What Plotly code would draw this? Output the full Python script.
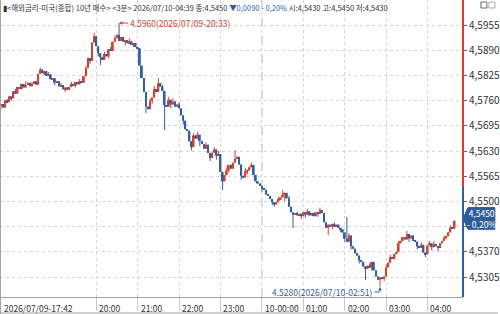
import plotly.graph_objects as go
import pandas as pd

# ---- data (3-minute candles, 2026/07/09 17:42 -> 2026/07/10 04:39) ----
start_time = "2026-07-09 17:42"
first_open = 4.5748
close = [
    4.5751, 4.5742, 4.5761, 4.5756, 4.5771, 4.5766, 4.5784, 4.5778, 4.5795, 4.5790,
    4.5803, 4.5794, 4.5800, 4.5806, 4.5797, 4.5803, 4.5810, 4.5801, 4.5829, 4.5840,
    4.5831, 4.5836, 4.5824, 4.5828, 4.5815, 4.5818, 4.5806, 4.5810, 4.5797, 4.5800,
    4.5789, 4.5794, 4.5788, 4.5795, 4.5803, 4.5798, 4.5808, 4.5802, 4.5810, 4.5806,
    4.5823, 4.5844, 4.5870, 4.5862, 4.5910, 4.5926, 4.5900, 4.5882, 4.5872, 4.5865,
    4.5880, 4.5874, 4.5892, 4.5888, 4.5912, 4.5921, 4.5930, 4.5914, 4.5924, 4.5912,
    4.5916, 4.5908, 4.5913, 4.5904, 4.5908, 4.5898, 4.5895, 4.5850, 4.5818, 4.5782,
    4.5745, 4.5738, 4.5760, 4.5768, 4.5790, 4.5782, 4.5805, 4.5796, 4.5785, 4.5748,
    4.5744, 4.5762, 4.5750, 4.5758, 4.5744, 4.5750, 4.5740, 4.5722, 4.5708, 4.5686,
    4.5682, 4.5655, 4.5640, 4.5670, 4.5662, 4.5672, 4.5656, 4.5648, 4.5636, 4.5646,
    4.5625, 4.5612, 4.5626, 4.5634, 4.5618, 4.5622, 4.5576, 4.5552, 4.5568, 4.5580,
    4.5594, 4.5584, 4.5600, 4.5610, 4.5615, 4.5595, 4.5566, 4.5562, 4.5578, 4.5580,
    4.5588, 4.5594, 4.5568, 4.5552, 4.5546, 4.5540, 4.5532, 4.5530, 4.5518, 4.5514,
    4.5506, 4.5498, 4.5492, 4.5498, 4.5506, 4.5510, 4.5516, 4.5522, 4.5508, 4.5486,
    4.5472, 4.5466, 4.5470, 4.5464, 4.5468, 4.5462, 4.5472, 4.5466, 4.5474, 4.5464,
    4.5470, 4.5462, 4.5472, 4.5468, 4.5478, 4.5470, 4.5446, 4.5432, 4.5440, 4.5436,
    4.5442, 4.5434, 4.5440, 4.5432, 4.5428, 4.5420, 4.5404, 4.5396, 4.5412, 4.5384,
    4.5378, 4.5366, 4.5360, 4.5348, 4.5344, 4.5332, 4.5326, 4.5334, 4.5330, 4.5344,
    4.5322, 4.5306, 4.5298, 4.5304, 4.5300, 4.5306, 4.5330, 4.5342, 4.5356, 4.5352,
    4.5364, 4.5370, 4.5392, 4.5398, 4.5408, 4.5402, 4.5416, 4.5404, 4.5412, 4.5398,
    4.5396, 4.5384, 4.5380, 4.5388, 4.5368, 4.5364, 4.5386, 4.5392, 4.5382, 4.5390,
    4.5384, 4.5380, 4.5392, 4.5398, 4.5406, 4.5410, 4.5420, 4.5432, 4.5430, 4.5450,
]
# wick extremes beyond the bodies (candle index -> price)
high_wicks = {3: 4.5764, 7: 4.5790, 12: 4.5810, 15: 4.5808, 19: 4.5845, 23: 4.5834,
              29: 4.5806, 34: 4.5808, 38: 4.5816, 41: 4.5850, 45: 4.5935, 50: 4.5886,
              53: 4.5898, 55: 4.5928, 57: 4.5960, 59: 4.5920, 62: 4.5920, 65: 4.5906,
              72: 4.5766, 74: 4.5798, 76: 4.5818, 78: 4.5800, 81: 4.5770, 83: 4.5766,
              86: 4.5756, 93: 4.5676, 95: 4.5680, 99: 4.5652, 103: 4.5640, 105: 4.5630,
              109: 4.5588, 111: 4.5596, 113: 4.5632, 118: 4.5586, 121: 4.5600, 124: 4.5552,
              128: 4.5526, 134: 4.5512, 136: 4.5529, 139: 4.5514, 143: 4.5474, 148: 4.5480,
              151: 4.5470, 154: 4.5484, 157: 4.5446, 161: 4.5446, 167: 4.5460, 168: 4.5418,
              172: 4.5368, 178: 4.5340, 186: 4.5338, 188: 4.5362, 192: 4.5398, 196: 4.5424,
              199: 4.5408, 203: 4.5394, 207: 4.5398, 209: 4.5398, 214: 4.5412, 217: 4.5438}
low_wicks = {0: 4.5738, 5: 4.5760, 10: 4.5788, 21: 4.5826, 26: 4.5800, 31: 4.5782,
             36: 4.5794, 43: 4.5855, 47: 4.5874, 48: 4.5852, 52: 4.5868, 60: 4.5902,
             64: 4.5898, 70: 4.5728, 73: 4.5752, 79: 4.5684, 82: 4.5740, 88: 4.5698,
             92: 4.5632, 96: 4.5642, 101: 4.5604, 104: 4.5608, 107: 4.5529, 110: 4.5574,
             116: 4.5556, 119: 4.5570, 126: 4.5524, 131: 4.5490, 132: 4.5486, 137: 4.5500,
             141: 4.5431, 145: 4.5455, 147: 4.5458, 153: 4.5460, 158: 4.5413, 160: 4.5428,
             164: 4.5420, 166: 4.5396, 169: 4.5376, 173: 4.5340, 176: 4.5297, 179: 4.5322,
             183: 4.5280, 185: 4.5294, 190: 4.5350, 197: 4.5396, 201: 4.5376, 205: 4.5356,
             208: 4.5374, 211: 4.5372, 215: 4.5402}

prev_close = 4.5540
last_price = 4.5450
max_label = "4.5960(2026/07/09-20:33)"
min_label = "4.5280(2026/07/10-02:51)"
max_time, max_price = "2026-07-09 20:33", 4.5960
min_time, min_price = "2026-07-10 02:51", 4.5280
ytick_vals = [4.5305, 4.5370, 4.5435, 4.5500, 4.5565, 4.5630, 4.5695, 4.5760, 4.5825, 4.5890, 4.5955]
hour_ticks = ["2026-07-09 20:00", "2026-07-09 21:00", "2026-07-09 22:00", "2026-07-09 23:00",
              "2026-07-10 00:00", "2026-07-10 01:00", "2026-07-10 02:00", "2026-07-10 03:00",
              "2026-07-10 04:00"]
hour_labels = ["20:00", "21:00", "22:00", "23:00", "10-00:00", "01:00", "02:00", "03:00", "04:00"]
first_label = "2026/07/09-17:42"
header = ("▮<해외금리-미국(종합) 10년 매수> <3분> 2026/07/10-04:39 종:4,5450 "
          "<span style='color:#2f5fa8'>▼0,0090 - 0,20%</span> 시:4,5430 고:4,5450 저:4,5430")

# ---- build OHLC ----
t0 = pd.Timestamp(start_time)
times = [t0 + pd.Timedelta(minutes=3 * i) for i in range(len(close))]
opens = [first_open] + close[:-1]
highs = [max(o, c, high_wicks.get(i, 0)) for i, (o, c) in enumerate(zip(opens, close))]
lows = [min(o, c, low_wicks.get(i, 9)) for i, (o, c) in enumerate(zip(opens, close))]

RED = "#d8412f"
BLUE = "#33609f"
FONT = "Liberation Sans Narrow, Noto Sans CJK KR"

fig = go.Figure()
for up, col in ((True, RED), (False, BLUE)):
    idx = [i for i in range(len(close)) if (close[i] >= opens[i]) == up]
    wx, wy = [], []
    for i in idx:
        wx += [times[i], times[i], None]
        wy += [lows[i], highs[i], None]
    fig.add_trace(go.Scatter(x=wx, y=wy, mode="lines", line=dict(color=col, width=1),
                             hoverinfo="skip", connectgaps=False))
    fig.add_trace(go.Bar(
        x=[times[i] for i in idx],
        base=[min(opens[i], close[i]) for i in idx],
        y=[max(abs(close[i] - opens[i]), 0.00012) for i in idx],
        width=2.5 * 60 * 1000, marker=dict(color=col, line=dict(width=0)), hoverinfo="skip",
    ))

W_PLOT, H_PLOT = 465.0, 297.0
ymin, ymax = 4.52534, 4.60195
xr0 = t0 - pd.Timedelta(minutes=1.45)
xr1 = times[-1] + pd.Timedelta(minutes=12.2)

def px(xp):
    return xp / W_PLOT

def py(yp):
    return 1 - yp / H_PLOT

shapes = []
shapes.append(dict(type="line", xref="paper", yref="y", x0=1.0, x1=1.0, y0=prev_close, y1=ymax,
                   line=dict(color=RED, width=2)))
shapes.append(dict(type="line", xref="paper", yref="y", x0=1.0, x1=1.0, y0=ymin, y1=prev_close,
                   line=dict(color=BLUE, width=2)))
shapes.append(dict(type="line", xref="x", yref="paper", x0=hour_ticks[4], x1=hour_ticks[4], y0=0, y1=1,
                   line=dict(color="#b8b8b8", width=1, dash="dash"), layer="below"))
shapes.append(dict(type="line", xref="paper", yref="paper", x0=0.001, x1=0.001, y0=-0.06, y1=1,
                   line=dict(color="#a0a0a0", width=1)))
shapes.append(dict(type="line", xref="paper", yref="paper", x0=0, x1=500 / W_PLOT, y0=py(313), y1=py(313),
                   line=dict(color="#a0a0a0", width=1)))
shapes.append(dict(type="line", xref="x", yref="y", x0=pd.Timestamp(min_time) - pd.Timedelta(minutes=8),
                   x1=min_time, y0=4.52665, y1=4.52665, line=dict(color=BLUE, width=1)))
shapes.append(dict(type="path", xref="paper", yref="y",
                   path=f"M {px(465)},4.5456 L {px(470)},4.5484 L {px(497)},4.5484 "
                        f"L {px(497)},4.5428 L {px(470)},4.5428 Z",
                   fillcolor="#2f5b98", line=dict(color="#2f5b98", width=1)))
shapes.append(dict(type="rect", xref="paper", yref="paper", x0=px(483), x1=px(489), y0=py(8), y1=py(2),
                   line=dict(color="#666", width=1), fillcolor="white"))
shapes.append(dict(type="rect", xref="paper", yref="paper", x0=px(491), x1=px(497), y0=py(8), y1=py(2),
                   line=dict(color="#aaa", width=1), fillcolor="white"))

annotations = []
annotations.append(dict(text=header, xref="paper", yref="paper", x=px(1), y=1.0, xanchor="left",
                        yanchor="top", showarrow=False, font=dict(family=FONT, size=7.5, color="#333")))
annotations.append(dict(text=max_label, xref="x", yref="y", x=max_time, y=max_price,
                        ax=9, ay=0, xanchor="left", yanchor="middle", showarrow=True,
                        arrowhead=2, arrowsize=0.7, arrowwidth=1, arrowcolor=RED, standoff=0,
                        font=dict(family=FONT, size=8.5, color=RED)))
annotations.append(dict(text="", xref="x", yref="y", x=min_time, y=min_price - 0.00005,
                        axref="x", ayref="y", ax=min_time, ay=4.52665, showarrow=True,
                        arrowhead=2, arrowsize=0.7, arrowwidth=1, arrowcolor=BLUE, standoff=0))
annotations.append(dict(text=min_label, xref="x", yref="y",
                        x=pd.Timestamp(min_time) - pd.Timedelta(minutes=8), y=4.52665,
                        xanchor="right", yanchor="middle", showarrow=False,
                        font=dict(family=FONT, size=8.5, color=BLUE)))
annotations.append(dict(text=f"{last_price:.4f}".replace(".", ",") + "<br>- 0,20%",
                        xref="paper", yref="y", x=px(484), y=4.5456, xanchor="center",
                        yanchor="middle", showarrow=False,
                        font=dict(family=FONT, size=8.5, color="white")))
annotations.append(dict(text=first_label, xref="paper", yref="paper", x=px(2), y=-0.01,
                        xanchor="left", yanchor="top", showarrow=False,
                        font=dict(family=FONT, size=8.5, color="#333")))
for t, lab in zip(hour_ticks, hour_labels):
    annotations.append(dict(text=lab, xref="x", yref="paper", x=pd.Timestamp(t) + pd.Timedelta(minutes=1.2),
                            y=-0.01, xanchor="left", yanchor="top", showarrow=False,
                            font=dict(family=FONT, size=8.5, color="#333")))

# the 4,5435 label is hidden behind the current-price tag in the reference
yticktext = ["" if abs(v - 4.5435) < 1e-9 else f"{v:.4f}".replace(".", ",") for v in ytick_vals]

fig.update_layout(
    width=500, height=314, margin=dict(l=0, r=35, t=0, b=17),
    paper_bgcolor="white", plot_bgcolor="white", showlegend=False, barmode="overlay",
    shapes=shapes, annotations=annotations,
    xaxis=dict(type="date", range=[xr0, xr1], tickvals=hour_ticks, showticklabels=False,
               ticks="outside", ticklen=13, tickcolor="#c8c8c8", showgrid=True,
               gridcolor="#d6d6d6", griddash="dot", showline=True, linecolor="#a0a0a0",
               zeroline=False, fixedrange=True),
    yaxis=dict(side="right", range=[ymin, ymax], tickvals=ytick_vals, ticktext=yticktext,
               ticks="outside", ticklen=3, tickcolor="#666", showgrid=True, gridcolor="#d6d6d6",
               griddash="dot", showline=False, zeroline=False,
               tickfont=dict(family=FONT, size=10, color="#333"), fixedrange=True),
)

fig.write_html("out.html")
